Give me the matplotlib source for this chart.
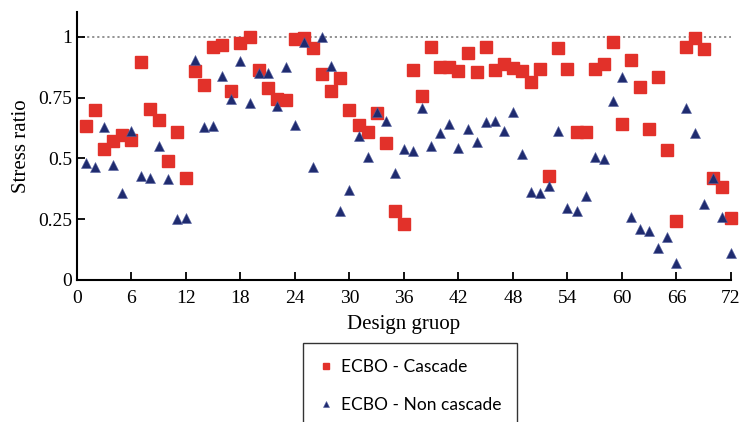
import numpy as np
import matplotlib
matplotlib.use("Agg")
import matplotlib.pyplot as plt

# design groups 1..72
groups = list(range(1, 73))

cascade = [0.633, 0.70, 0.537, 0.57, 0.595, 0.575, 0.896, 0.705, 0.656, 0.488,
           0.607, 0.418, 0.858, 0.80, 0.956, 0.965, 0.776, 0.975, 1.0, 0.862,
           0.788, 0.743, 0.739, 0.989, 0.993, 0.952, 0.847, 0.777, 0.829, 0.70,
           0.636, 0.607, 0.685, 0.562, 0.282, 0.23, 0.862, 0.755, 0.956, 0.874,
           0.874, 0.858, 0.932, 0.854, 0.96, 0.862, 0.89, 0.87, 0.858, 0.813,
           0.866, 0.426, 0.952, 0.866, 0.607, 0.607, 0.866, 0.89, 0.98, 0.64,
           0.903, 0.792, 0.619, 0.833, 0.533, 0.241, 0.96, 0.997, 0.948, 0.418,
           0.381, 0.254]

non_cascade = [0.482, 0.466, 0.63, 0.474, 0.356, 0.614, 0.426, 0.419, 0.552, 0.416,
               0.25, 0.255, 0.903, 0.627, 0.632, 0.837, 0.745, 0.899, 0.729, 0.85,
               0.85, 0.715, 0.874, 0.637, 0.98, 0.463, 1.0, 0.88, 0.284, 0.37,
               0.592, 0.507, 0.69, 0.655, 0.44, 0.537, 0.529, 0.708, 0.55, 0.603,
               0.642, 0.543, 0.62, 0.567, 0.649, 0.653, 0.611, 0.692, 0.517, 0.36,
               0.359, 0.386, 0.611, 0.297, 0.285, 0.347, 0.505, 0.496, 0.736, 0.833,
               0.26, 0.208, 0.2, 0.131, 0.175, 0.071, 0.706, 0.603, 0.312, 0.419,
               0.258, 0.11]

xticks = list(range(0, 73, 6))
yticks = [0, 0.25, 0.5, 0.75, 1]
ytick_labels = ["0", "0.25", "0.5", "0.75", "1"]

red = "#E2312A"
navy = "#1F2B6F"

fig = plt.figure(figsize=(7.41, 4.22), dpi=100)
ax = fig.add_axes([0.1039, 0.3365, 0.8826, 0.634])

ax.axhline(1.0, color="#8a8a8a", linestyle=(0, (1.2, 1.6)), linewidth=1.3, zorder=1)
ax.plot(groups, cascade, linestyle="none", marker="s", markersize=8.1,
        color=red, label="ECBO - Cascade", zorder=3, clip_on=False)
ax.plot(groups, non_cascade, linestyle="none", marker="^", markersize=7.8,
        color=navy, markeredgecolor="#5560a0", markeredgewidth=0.4,
        label="ECBO - Non cascade", zorder=3, clip_on=False)

ax.set_xlim(0, 72)
ax.set_ylim(0, 1.1)
ax.set_xticks(xticks)
ax.set_yticks(yticks)
ax.set_yticklabels(ytick_labels)

for side in ["top", "right"]:
    ax.spines[side].set_visible(False)
for side in ["left", "bottom"]:
    ax.spines[side].set_linewidth(1.5)
ax.tick_params(direction="in", length=6, width=1.3, labelsize=14)
ax.tick_params(axis="x", pad=7)
for lbl in ax.get_xticklabels() + ax.get_yticklabels():
    lbl.set_family("Liberation Serif")

ax.set_xlabel("Design gruop", family="Liberation Serif", fontsize=15, labelpad=6)
ax.set_ylabel("Stress ratio", family="Liberation Serif", fontsize=15, labelpad=5)

leg = fig.legend(loc="upper left", bbox_to_anchor=(303 / 741, 1 - 343 / 422),
                 frameon=True, fancybox=False, edgecolor="black",
                 prop={"family": "Lato", "size": 12.5}, markerscale=0.6,
                 handlelength=0.8, handletextpad=0.5, labelspacing=1.3,
                 borderpad=0.9, borderaxespad=0)
leg.get_frame().set_linewidth(1.0)

fig.savefig("out.png", dpi=100)
